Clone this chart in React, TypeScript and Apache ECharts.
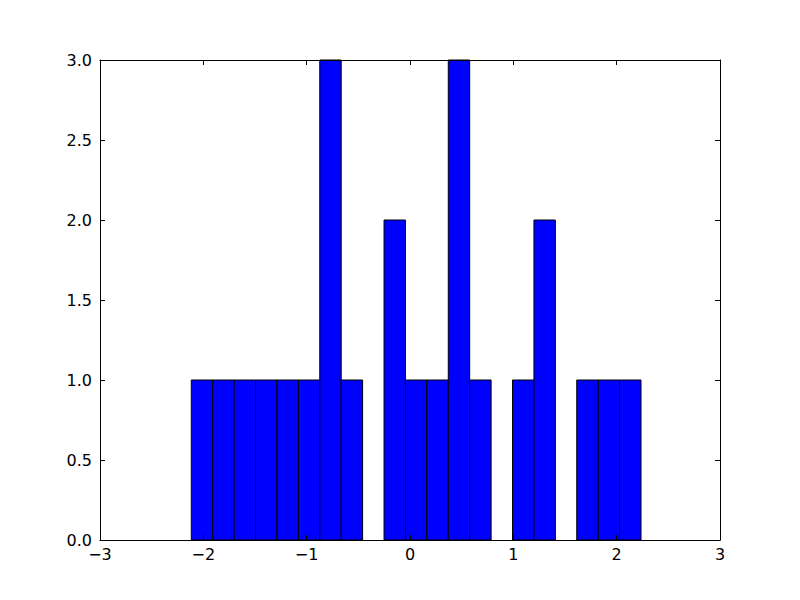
import React, { useEffect, useRef } from "react";
import * as echarts from "echarts";

const binEdges = [
  -2.1165, -1.9093, -1.702, -1.4948, -1.2875, -1.0803, -0.8731, -0.6658, -0.4586,
  -0.2513, -0.0441, 0.1632, 0.3704, 0.5776, 0.7849, 0.9921, 1.1994, 1.4066,
  1.6138, 1.8211, 2.0283, 2.2356,
];
const counts = [1, 1, 1, 1, 1, 1, 3, 1, 0, 2, 1, 1, 3, 1, 0, 1, 2, 0, 1, 1, 1];
const xTicks = [-3, -2, -1, 0, 1, 2, 3];
const yTicks = [0, 0.5, 1, 1.5, 2, 2.5, 3];

export default function App() {
  const ref = useRef<HTMLDivElement>(null);
  useEffect(() => {
    if (!ref.current) return;
    const chart = echarts.init(ref.current, null, { renderer: "svg" });
    const data = counts.map((c, i) => [binEdges[i], binEdges[i + 1], c]);
    const font = "DejaVu Sans";
    const axisLine = { show: true, onZero: false, lineStyle: { color: "#000", width: 1 } };
    const tick = { show: true, inside: true, length: 5, lineStyle: { color: "#000", width: 1 } };
    chart.setOption({
      animation: false,
      backgroundColor: "#fff",
      grid: { left: 100, right: 80, top: 60, bottom: 60, containLabel: false },
      xAxis: [
        {
          type: "value",
          position: "bottom",
          min: xTicks[0],
          max: xTicks[xTicks.length - 1],
          interval: 1,
          axisLine,
          axisTick: tick,
          splitLine: { show: false },
          axisLabel: {
            color: "#000",
            fontFamily: font,
            fontSize: 16,
            margin: 6,
            formatter: (v: number) => String(v).replace("-", "\u2212"),
          },
          z: 5,
        },
        {
          type: "value",
          position: "top",
          min: xTicks[0],
          max: xTicks[xTicks.length - 1],
          interval: 1,
          axisLine,
          axisTick: tick,
          splitLine: { show: false },
          axisLabel: { show: false },
          z: 5,
        },
      ],
      yAxis: [
        {
          type: "value",
          position: "left",
          min: yTicks[0],
          max: yTicks[yTicks.length - 1],
          interval: 0.5,
          axisLine,
          axisTick: tick,
          splitLine: { show: false },
          axisLabel: {
            color: "#000",
            fontFamily: font,
            fontSize: 16,
            margin: 8,
            formatter: (v: number) => v.toFixed(1),
          },
          z: 5,
        },
        {
          type: "value",
          position: "right",
          min: yTicks[0],
          max: yTicks[yTicks.length - 1],
          interval: 0.5,
          axisLine,
          axisTick: tick,
          splitLine: { show: false },
          axisLabel: { show: false },
          z: 5,
        },
      ],
      series: [
        {
          type: "custom",
          xAxisIndex: 0,
          yAxisIndex: 0,
          encode: { x: [0, 1], y: 2 },
          data,
          z: 1,
          renderItem: (params: any, api: any) => {
            const x0 = api.value(0);
            const x1 = api.value(1);
            const c = api.value(2);
            if (!c) return null;
            const p0 = api.coord([x0, c]);
            const p1 = api.coord([x1, 0]);
            return {
              type: "rect",
              shape: { x: p0[0], y: p0[1], width: p1[0] - p0[0], height: p1[1] - p0[1] },
              style: { fill: "#0000ff", stroke: "#000", lineWidth: 1 },
            };
          },
        },
      ],
    });
    return () => chart.dispose();
  }, []);
  return (
    <div
      ref={ref}
      style={{ position: "absolute", left: 0, top: 0, width: 800, height: 600 }}
    />
  );
}
